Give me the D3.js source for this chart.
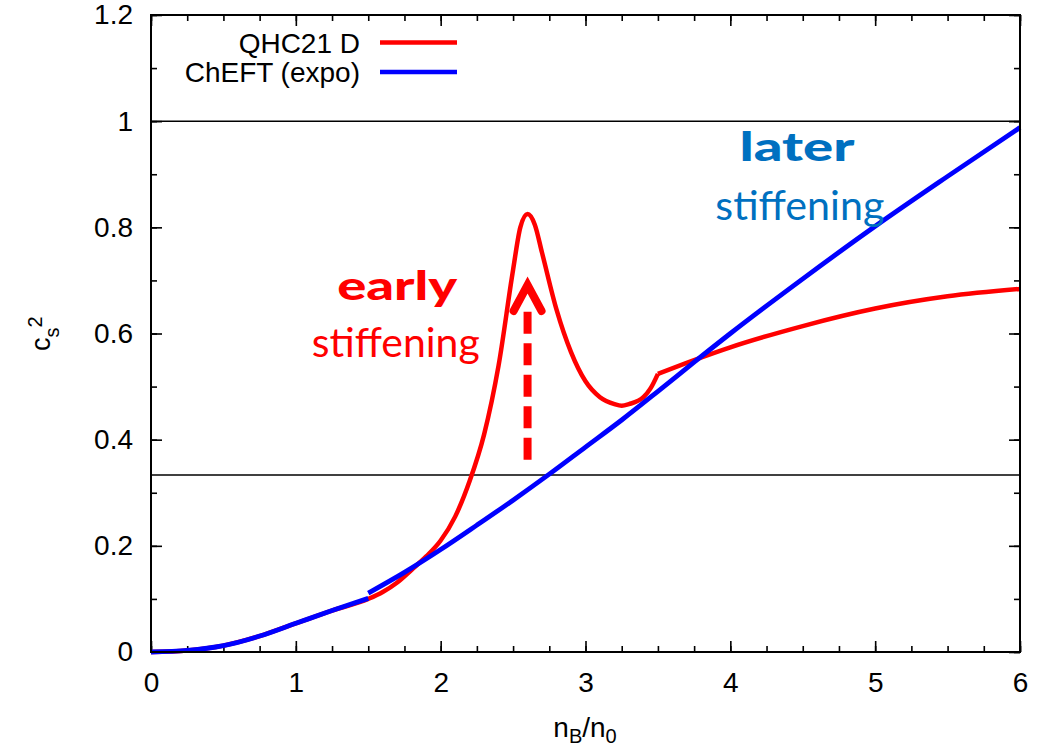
<!DOCTYPE html>
<html>
<head>
<meta charset="utf-8">
<script src="https://cdn.jsdelivr.net/npm/d3@7"></script>
<style>
  body { margin: 0; background: #fff; }
  svg { display: block; }
</style>
</head>
<body>
<div id="chart"></div>
<script>
// speed of sound squared vs baryon density

var xTicks = [0, 1, 2, 3, 4, 5, 6];
var yTicks = [0, 0.2, 0.4, 0.6, 0.8, 1, 1.2];
var refLines = [1, 1 / 3];

// QHC21 D (red), corner at 3.5 so it is kept in two pieces
var redLowN = [0, 0.25, 0.5, 0.75, 1.0, 1.25, 1.5, 1.6, 1.7, 1.8, 1.9, 2.0, 2.1, 2.2, 2.3, 2.4, 2.5, 2.55, 2.6, 2.65, 2.7, 2.8, 2.9, 3.0, 3.1, 3.2, 3.25, 3.3, 3.4, 3.45, 3.5];
var redLowCs2 = [0, 0.003, 0.012, 0.03, 0.054, 0.078, 0.1, 0.113, 0.131, 0.155, 0.18, 0.21, 0.255, 0.322, 0.41, 0.54, 0.72, 0.8, 0.825, 0.805, 0.752, 0.645, 0.565, 0.51, 0.48, 0.467, 0.464, 0.467, 0.48, 0.497, 0.524];
var redHighN = [3.5, 3.75, 4.0, 4.5, 5.0, 5.5, 6.0];
var redHighCs2 = [0.524, 0.55, 0.574, 0.614, 0.647, 0.67, 0.684];

// ChEFT (expo) (blue), two pieces with a small jump at 1.5
var blueLowN = [0, 0.25, 0.5, 0.75, 1.0, 1.25, 1.5];
var blueLowCs2 = [0, 0.003, 0.012, 0.03, 0.054, 0.078, 0.101];
var blueHighN = [1.5, 1.75, 2.0, 2.25, 2.5, 2.75, 3.0, 3.25, 3.5, 3.75, 4.0, 4.5, 5.0, 5.5, 6.0];
var blueHighCs2 = [0.111, 0.15, 0.193, 0.239, 0.286, 0.335, 0.386, 0.437, 0.491, 0.546, 0.6, 0.703, 0.802, 0.896, 0.988];

var legendNames = ["QHC21 D", "ChEFT (expo)"];
var legendColors = ["#ff0000", "#0000ff"];

// annotations in data units: [x, y of baseline]
var earlyPos = [[1.7, 0.663], [1.69, 0.555]];
var laterPos = [[4.46, 0.925], [4.48, 0.814]];
var arrowX = 2.6;
var arrowY = [0.362, 0.697];

var svgWidth = 1056;
var svgHeight = 747;

var margin = { top: 15, right: 36, bottom: 95, left: 151 };
var width = svgWidth - margin.left - margin.right;
var height = svgHeight - margin.top - margin.bottom;

var svg = d3.select("#chart")
  .append("svg")
  .attr("width", svgWidth)
  .attr("height", svgHeight);

var chartGroup = svg.append("g")
  .attr("transform", `translate(${margin.left}, ${margin.top})`);

var xScale = d3.scaleLinear().domain([0, 6]).range([0, width]);
var yScale = d3.scaleLinear().domain([0, 1.2]).range([height, 0]);

var fmt = function(d) { return String(+d.toFixed(1)); };
var xMinor = d3.range(0, 6.001, 0.25);
var yMinor = d3.range(0, 1.2001, 0.1);
var labelFont = "'Liberation Sans', Arial, sans-serif";

function styleAxis(g) {
  g.select(".domain").remove();
  g.selectAll("line").attr("stroke", "#000").attr("stroke-width", 1.6);
  g.selectAll("text")
    .attr("font-family", labelFont)
    .attr("font-size", "28px")
    .attr("fill", "#000");
}

// major ticks with labels
chartGroup.append("g")
  .attr("transform", `translate(0, ${height})`)
  .call(d3.axisBottom(xScale).tickValues(xTicks).tickSize(-11).tickPadding(20).tickFormat(fmt))
  .call(styleAxis);
chartGroup.append("g")
  .call(d3.axisLeft(yScale).tickValues(yTicks).tickSize(-11).tickPadding(18).tickFormat(fmt))
  .call(styleAxis);
// mirrored major ticks
chartGroup.append("g")
  .call(d3.axisTop(xScale).tickValues(xTicks).tickSize(-11).tickFormat(""))
  .call(styleAxis);
chartGroup.append("g")
  .attr("transform", `translate(${width}, 0)`)
  .call(d3.axisRight(yScale).tickValues(yTicks).tickSize(-11).tickFormat(""))
  .call(styleAxis);
// minor ticks
chartGroup.append("g")
  .attr("transform", `translate(0, ${height})`)
  .call(d3.axisBottom(xScale).tickValues(xMinor).tickSize(-6).tickFormat(""))
  .call(styleAxis);
chartGroup.append("g")
  .call(d3.axisTop(xScale).tickValues(xMinor).tickSize(-6).tickFormat(""))
  .call(styleAxis);
chartGroup.append("g")
  .call(d3.axisLeft(yScale).tickValues(yMinor).tickSize(-6).tickFormat(""))
  .call(styleAxis);
chartGroup.append("g")
  .attr("transform", `translate(${width}, 0)`)
  .call(d3.axisRight(yScale).tickValues(yMinor).tickSize(-6).tickFormat(""))
  .call(styleAxis);

// reference lines c_s^2 = 1 and 1/3
chartGroup.append("g")
  .selectAll("line")
  .data(refLines)
  .enter()
  .append("line")
  .attr("x1", 0)
  .attr("x2", width)
  .attr("y1", function(d) { return yScale(d); })
  .attr("y2", function(d) { return yScale(d); })
  .attr("stroke", "#000")
  .attr("stroke-width", 1.5);

var line = d3.line()
  .x(function(d) { return xScale(d[0]); })
  .y(function(d) { return yScale(d[1]); })
  .curve(d3.curveMonotoneX);

function pairs(xs, ys) { return xs.map(function(x, i) { return [x, ys[i]]; }); }

function drawSeries(segs, color, w) {
  segs.forEach(function(seg) {
    chartGroup.append("path")
      .datum(seg)
      .attr("d", line)
      .attr("fill", "none")
      .attr("stroke", color)
      .attr("stroke-width", w)
      .attr("stroke-linejoin", "round");
  });
}

drawSeries([pairs(redLowN, redLowCs2), pairs(redHighN, redHighCs2)], legendColors[0], 4.5);
drawSeries([pairs(blueLowN, blueLowCs2), pairs(blueHighN, blueHighCs2)], legendColors[1], 4.8);

// frame
chartGroup.append("rect")
  .attr("width", width)
  .attr("height", height)
  .attr("fill", "none")
  .attr("stroke", "#000")
  .attr("stroke-width", 2);

// legend
var legend = svg.append("g");
legendNames.forEach(function(name, i) {
  var y = 42.5 + i * 29.5;
  legend.append("text")
    .attr("x", 360)
    .attr("y", y + 10)
    .attr("text-anchor", "end")
    .attr("font-family", labelFont)
    .attr("font-size", "28px")
    .text(name);
  legend.append("line")
    .attr("x1", 380).attr("x2", 457)
    .attr("y1", y).attr("y2", y)
    .attr("stroke", legendColors[i])
    .attr("stroke-width", 4.5);
});

// dashed arrow
var ax = xScale(arrowX);
var yTip = yScale(arrowY[1]);
chartGroup.append("line")
  .attr("x1", ax).attr("x2", ax)
  .attr("y1", yScale(arrowY[0])).attr("y2", yTip + 29)
  .attr("stroke", "#ff0000")
  .attr("stroke-width", 8)
  .attr("stroke-dasharray", "22,9.5");
chartGroup.append("path")
  .attr("d", `M${ax - 14},${yTip + 29} L${ax},${yTip + 3} L${ax + 14},${yTip + 29}`)
  .attr("fill", "none")
  .attr("stroke", "#ff0000")
  .attr("stroke-width", 8)
  .attr("stroke-linecap", "round")
  .attr("stroke-linejoin", "miter");

// annotation text
function note(pos, txt, bold, color, len) {
  chartGroup.append("text")
    .attr("x", xScale(pos[0]))
    .attr("y", yScale(pos[1]))
    .attr("text-anchor", "middle")
    .attr("font-family", "Lato, 'Open Sans', sans-serif")
    .attr("font-weight", bold ? 900 : 400)
    .attr("font-size", "40px")
    .attr("fill", color)
    .attr("textLength", len)
    .attr("lengthAdjust", "spacingAndGlyphs")
    .text(txt);
}
note(earlyPos[0], "early", true, "#ff0000", 120);
note(earlyPos[1], "stiffening", false, "#ff0000", 168);
note(laterPos[0], "later", true, "#0070c0", 115);
note(laterPos[1], "stiffening", false, "#0070c0", 169);

// axis titles
var xTitle = svg.append("text")
  .attr("x", 585)
  .attr("y", 737)
  .attr("text-anchor", "middle")
  .attr("font-family", labelFont)
  .attr("font-size", "28px");
xTitle.append("tspan").text("n");
xTitle.append("tspan").attr("font-size", "20px").attr("dy", 6).text("B");
xTitle.append("tspan").attr("dy", -6).text("/n");
xTitle.append("tspan").attr("font-size", "20px").attr("dy", 6).text("0");

var yTitle = svg.append("text")
  .attr("transform", "translate(50, 351) rotate(-90)")
  .attr("font-family", labelFont)
  .attr("font-size", "27px");
yTitle.append("tspan").text("c");
yTitle.append("tspan").attr("font-size", "20px").attr("dy", 9).text("s");
yTitle.append("tspan").attr("font-size", "20px").attr("dy", -17).text("2");
</script>
</body>
</html>
